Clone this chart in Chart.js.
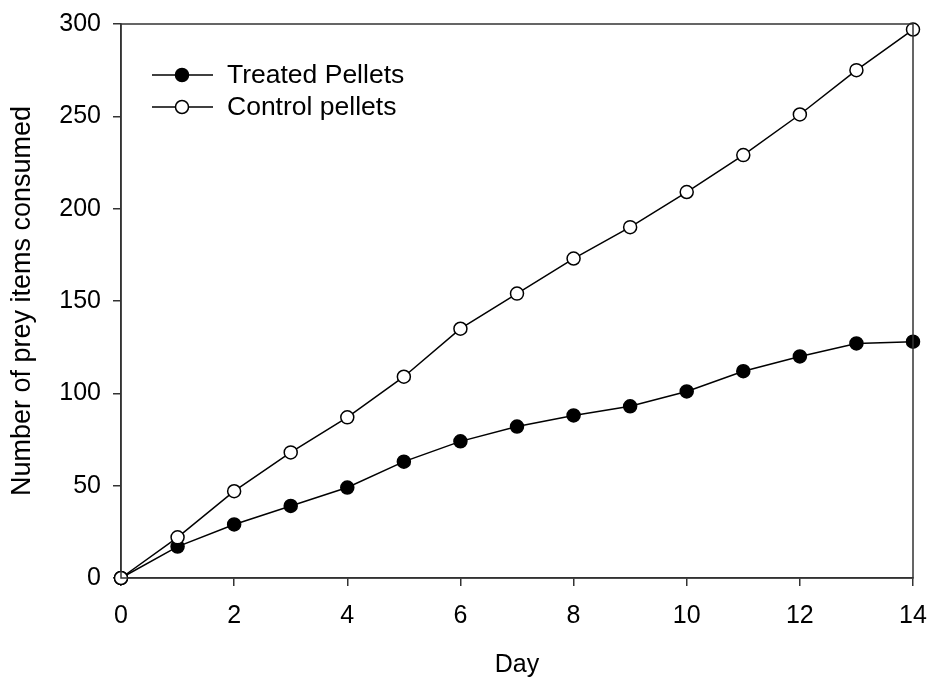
<!DOCTYPE html>
<html>
<head>
<meta charset="utf-8">
<script src="https://cdn.jsdelivr.net/npm/chart.js@4/dist/chart.umd.min.js"></script>
<style>
  html, body { margin: 0; padding: 0; background: #fff; }
  #wrap { width: 929px; height: 677px; position: relative; }
</style>
</head>
<body>
<div id="wrap"><canvas id="chart"></canvas></div>
<script>
// values
const days = [0, 1, 2, 3, 4, 5, 6, 7, 8, 9, 10, 11, 12, 13, 14];
const treatedPellets = [0, 17, 29, 39, 49, 63, 74, 82, 88, 93, 101, 112, 120, 127, 128];
const controlPellets = [0, 22, 47, 68, 87, 109, 135, 154, 173, 190, 209, 229, 251, 275, 297];
const seriesNames = ['Treated Pellets', 'Control pellets'];
const yTicks = [0, 50, 100, 150, 200, 250, 300];
const xTicks = [0, 2, 4, 6, 8, 10, 12, 14];

const FONT = "'Liberation Sans', Arial, sans-serif";

const toPoints = vals => days.map((d, i) => ({ x: d, y: vals[i] }));

// box round the plot, like the original frame
const frame = {
  id: 'frame',
  afterDraw(chart) {
    const { ctx, chartArea: a } = chart;
    ctx.save();
    ctx.strokeStyle = '#333';
    ctx.lineWidth = 1.5;
    ctx.strokeRect(a.left, a.top, a.right - a.left, a.bottom - a.top);
    ctx.restore();
  }
};

// legend with a line through each marker
const lineLegend = {
  id: 'lineLegend',
  afterDraw(chart) {
    const { ctx, chartArea: a } = chart;
    ctx.save();
    chart.data.datasets.forEach((ds, i) => {
      const y = a.top + 51 + i * 32;
      const x0 = a.left + 31;
      ctx.strokeStyle = '#000';
      ctx.lineWidth = 1.5;
      ctx.beginPath();
      ctx.moveTo(x0, y);
      ctx.lineTo(x0 + 61, y);
      ctx.stroke();
      ctx.beginPath();
      ctx.arc(x0 + 30, y, 6.5, 0, Math.PI * 2);
      ctx.fillStyle = ds.pointBackgroundColor;
      ctx.fill();
      ctx.stroke();
      ctx.fillStyle = '#000';
      ctx.font = '26.5px ' + FONT;
      ctx.textBaseline = 'middle';
      ctx.fillText(ds.label, x0 + 75, y + 1);
    });
    ctx.restore();
  }
};

new Chart(document.getElementById('chart'), {
  type: 'line',
  data: {
    datasets: [
      {
        label: seriesNames[0],
        data: toPoints(treatedPellets),
        borderColor: '#000',
        borderWidth: 1.5,
        pointRadius: 6.5,
        pointBackgroundColor: '#000',
        pointBorderColor: '#000',
        pointBorderWidth: 1.5,
        order: 1
      },
      {
        label: seriesNames[1],
        data: toPoints(controlPellets),
        borderColor: '#000',
        borderWidth: 1.5,
        pointRadius: 6.5,
        pointBackgroundColor: '#fff',
        pointBorderColor: '#000',
        pointBorderWidth: 1.5,
        order: 0
      }
    ]
  },
  options: {
    responsive: true,
    maintainAspectRatio: false,
    animation: false,
    clip: false,
    layout: { padding: { top: 24, right: 16, left: 0, bottom: 0 } },
    plugins: {
      legend: { display: false },
      tooltip: { enabled: false }
    },
    scales: {
      x: {
        type: 'linear',
        min: 0,
        max: 14,
        afterBuildTicks: s => { s.ticks = xTicks.map(v => ({ value: v })); },
        afterFit: s => { s.height = 99; s.paddingLeft = 0; s.paddingRight = 0; },
        grid: { drawOnChartArea: false, tickLength: 8, color: '#333', lineWidth: 1.5 },
        border: { color: '#333', width: 1.5 },
        ticks: { color: '#000', font: { family: FONT, size: 25 }, padding: 15, maxRotation: 0 },
        title: { display: true, text: 'Day', color: '#000', font: { family: FONT, size: 25 }, padding: { top: 0, bottom: -3 } }
      },
      y: {
        min: 0,
        max: 300,
        afterBuildTicks: s => { s.ticks = yTicks.map(v => ({ value: v })); },
        afterFit: s => { s.width = 121; s.paddingTop = 0; s.paddingBottom = 0; },
        grid: { drawOnChartArea: false, tickLength: 8, color: '#333', lineWidth: 1.5 },
        border: { color: '#333', width: 1.5 },
        ticks: { color: '#000', font: { family: FONT, size: 25 }, padding: 12 },
        title: { display: true, text: 'Number of prey items consumed', color: '#000', font: { family: FONT, size: 27 }, padding: { top: 6, bottom: 0 } }
      }
    }
  },
  plugins: [frame, lineLegend]
});
</script>
</body>
</html>
